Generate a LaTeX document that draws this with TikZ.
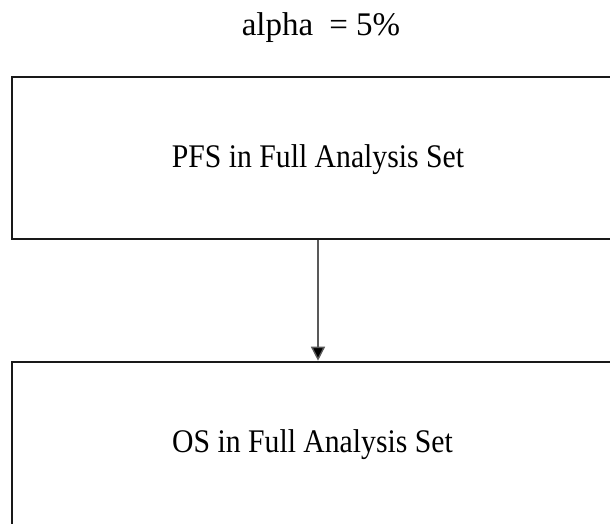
\documentclass[tikz,border=0pt]{standalone}
\usepackage{fontspec}
\setmainfont{Liberation Serif}
\newfontfamily\condserif[FakeStretch=0.9]{Liberation Serif}
\usetikzlibrary{arrows.meta}
\begin{document}
\begin{tikzpicture}[x=1pt,y=1pt,
  box/.style={draw=black!90,line width=2.6pt,inner sep=0pt},
  lbl/.style={font=\condserif\fontsize{33}{38}\selectfont,inner sep=0pt,text=black,anchor=base},
  ttl/.style={font=\fontsize{33}{38}\selectfont,inner sep=0pt,text=black,anchor=base},
  conn/.style={draw=black!65,line width=1.4pt,-{Triangle[width=14pt,length=14pt,fill=black]}}]
\useasboundingbox (0,0) rectangle (610,-523);
\clip (0,0) rectangle (610,-523);
\fill[white] (0,0) rectangle (610,-523);
\node[ttl] (title) at (321,-35) {alpha\hspace{16pt}= 5\%};
\node[box,minimum width=606pt,minimum height=162pt] (b1) at (315,-158) {};
\node[box,minimum width=606pt,minimum height=170pt] (b2) at (315,-447) {};
\node[lbl] (t1) at (318,-167) {PFS in Full Analysis Set};
\node[lbl] (t2) at (312.5,-452) {OS in Full Analysis Set};
\draw[conn] (b1.south -| 318,0) -- (b2.north -| 318,0);
\end{tikzpicture}
\end{document}
